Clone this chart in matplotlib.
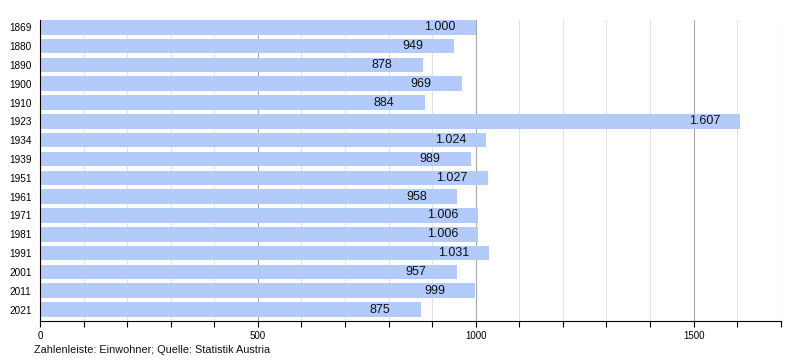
import matplotlib
matplotlib.use("Agg")
import matplotlib.pyplot as plt
from matplotlib.ticker import MultipleLocator

plt.rcParams["font.family"] = ["Liberation Sans", "DejaVu Sans"]

years = ["1869", "1880", "1890", "1900", "1910", "1923", "1934", "1939",
         "1951", "1961", "1971", "1981", "1991", "2001", "2011", "2021"]
population = [1000, 949, 878, 969, 884, 1607, 1024, 989,
              1027, 958, 1006, 1006, 1031, 957, 999, 875]

BAR_COLOR = "#b3cbfa"


def fmt_de(v):
    return f"{v:,}".replace(",", ".")


fig = plt.figure(figsize=(8, 3.6), dpi=100)
ax = fig.add_axes([0.05, 0.1083, 0.926, 0.8361])

pos = list(range(len(years)))
ax.barh(pos, population, height=0.77, color=BAR_COLOR, zorder=2)

# labels start a fixed distance left of the bar end
for p, v in zip(pos, population):
    ax.annotate(fmt_de(v), xy=(v, p), xytext=(-37, 0), textcoords="offset points",
                ha="left", va="center", fontsize=9, color="#111111", zorder=3)

ax.set_xlim(0, 1700)
ax.set_ylim(15.61, -0.385)
ax.set_yticks(pos)
ax.set_yticklabels(years, fontsize=7.2)
ax.tick_params(axis="y", length=0, pad=6)

ax.xaxis.set_major_locator(MultipleLocator(500))
ax.xaxis.set_minor_locator(MultipleLocator(100))
ax.tick_params(axis="x", which="major", labelsize=7, length=4, width=0.8, direction="out")
ax.tick_params(axis="x", which="minor", length=4, width=0.8, direction="out")

ax.grid(axis="x", which="minor", color="#e2e2e2", linewidth=0.8, zorder=0)
ax.grid(axis="x", which="major", color="#a8a8a8", linewidth=0.8, zorder=1)

for side in ("top", "right"):
    ax.spines[side].set_visible(False)
ax.spines["left"].set_color("black")
ax.spines["bottom"].set_color("black")

fig.text(0.042, 0.028, "Zahlenleiste: Einwohner; Quelle: Statistik Austria",
         fontsize=7.8, color="#111111", va="center")

fig.savefig("out.png", dpi=100)
